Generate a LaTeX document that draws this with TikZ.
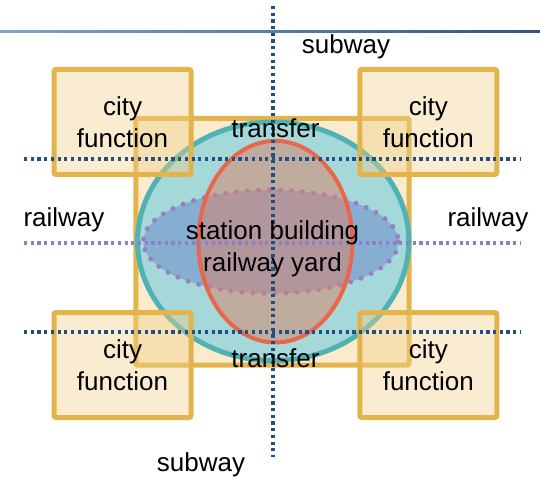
\documentclass[tikz,border=0pt]{standalone}
\usepackage{fontspec}
\setmainfont{Liberation Sans}
\newcommand\lblfont{\fontsize{26}{32}\selectfont}
\definecolor{gold}{HTML}{E2B44B}
\definecolor{cream}{HTML}{FAEBCD}
\definecolor{boxfill}{HTML}{F2D08A}
\definecolor{tealline}{HTML}{4FB2B5}
\definecolor{tealfill}{HTML}{A4D8D9}
\definecolor{redline}{HTML}{E8664A}
\definecolor{redfill}{HTML}{DD8266}
\definecolor{bluefill}{HTML}{86AED1}
\definecolor{purpdot}{HTML}{9A7EC4}
\definecolor{navydot}{HTML}{234E83}
\definecolor{purpline}{HTML}{8E7EC6}
\definecolor{rulel}{HTML}{86A3C6}
\definecolor{ruler}{HTML}{34557F}
\begin{document}
\begin{tikzpicture}[x=1pt,y=-1pt,
  citybox/.style={draw=gold, line width=5pt, fill=boxfill, fill opacity=0.4,
    text opacity=1, rounded corners=2pt, minimum width=137pt, minimum height=105pt,
    align=center, inner sep=0pt, font=\lblfont},
  lbl/.style={font=\lblfont, inner sep=0pt, anchor=base},
  navydots/.style={draw=navydot, line width=3.2pt, dash pattern=on 3.2pt off 3.5pt},
  purpdots/.style={draw=purpline, line width=3.2pt, dash pattern=on 3.2pt off 3.5pt},
  ovaldots/.style={draw=purpdot, line width=5pt, line cap=round, dash pattern=on 0pt off 11pt}]
\useasboundingbox (0,0) rectangle (540,478);
% top rule
\shade[left color=rulel, right color=ruler] (0,31) rectangle (540,32.5);
% station square
\draw[draw=gold, line width=5pt, fill=cream, rounded corners=1.5pt] (135.8,118.5) rectangle (409.2,365.2);
% transfer circle
\draw[draw=tealline, fill=tealfill, line width=5pt] (273.2,241.3) ellipse [x radius=135.6, y radius=119.3];
% railway yard oval
\fill[bluefill] (270.8,241.7) ellipse [x radius=127.5, y radius=51.7];
\draw[ovaldots] (270.8,241.7) ellipse [x radius=127.5, y radius=51.7];
% station building oval
\draw[draw=redline, line width=4pt, fill=redfill, fill opacity=0.5] (275.4,241.7) ellipse [x radius=77, y radius=100.8];
% city function boxes
\node[citybox] (tl) at (122.5,122) {city\\function};
\node[citybox] (tr) at (428.3,122) {city\\function};
\node[citybox] (bl) at (122.5,365) {city\\function};
\node[citybox] (br) at (428.3,365) {city\\function};
% lines
\coordinate (vt) at (273,6);
\coordinate (vb) at (273,457);
\coordinate (h1l) at (24,159);
\coordinate (h1r) at (520,159);
\coordinate (h2l) at (24,332);
\coordinate (h2r) at (520,332);
\coordinate (pl) at (24,243);
\coordinate (pr) at (520,243);
\draw[purpdots] (pl) -- (pr);
\draw[navydots] (h1l) -- (h1r);
\draw[navydots] (h2l) -- (h2r);
\draw[navydots] (vt) -- (vb);
% labels
\node[lbl] (sub1) at (346,54) {subway};
\node[lbl] (sub2) at (201,471) {subway};
\node[lbl] (rw1) at (64,226) {railway};
\node[lbl] (rw2) at (488,226) {railway};
\node[lbl] (tf1) at (275.5,138) {transfer};
\node[lbl] (tf2) at (275.5,367) {transfer};
\node[font=\lblfont, inner sep=0pt, align=center] (st) at (272.5,248.5) {station building\\railway yard};
\end{tikzpicture}
\end{document}
